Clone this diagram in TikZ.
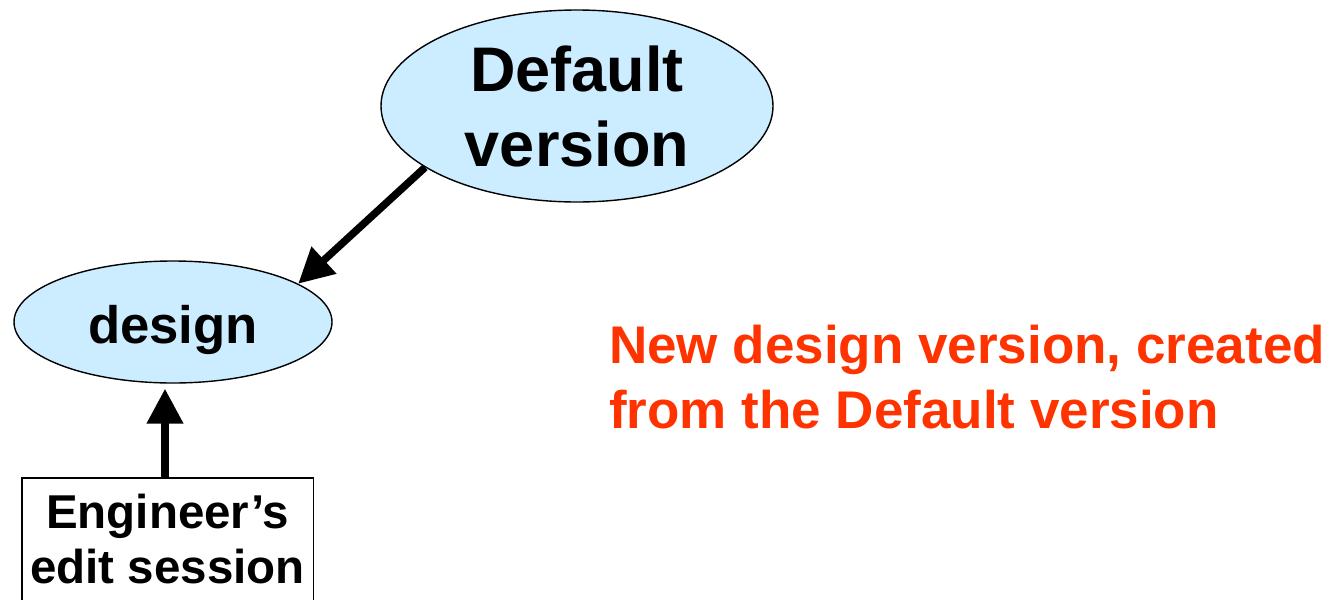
\documentclass[tikz,border=0pt]{standalone}
\usepackage{fontspec}
\setmainfont{Liberation Sans}
\usetikzlibrary{shapes.geometric,arrows.meta}
\definecolor{bubble}{RGB}{204,236,255}
\definecolor{note}{RGB}{255,51,0}
\tikzset{
  verbubble/.style={ellipse, draw=black, line width=1.4pt, fill=bubble,
    inner sep=0pt, font=\bfseries},
  sessbox/.style={rectangle, draw=none, inner xsep=0pt, align=center,
    font=\bfseries\fontsize{47.5}{55}\selectfont},
  flow/.style={line width=7.5pt, -{Triangle[length=35pt,width=35pt]}},
  notetext/.style={text=note, align=left, inner sep=0pt,
    font=\bfseries\fontsize{53}{65}\selectfont}
}
\begin{document}
\begin{tikzpicture}[x=1pt,y=-1pt]
  \useasboundingbox (0,0) rectangle (1342,600);
  \clip (0,0) rectangle (1342,600);

  % version bubbles
  \node[verbubble, minimum width=392pt, minimum height=192pt, align=center,
        font=\bfseries\fontsize{63}{75}\selectfont]
    (dv) at (577,106) {Default\\version};
  \node[verbubble, minimum width=318pt, minimum height=122pt,
        text height=50pt, text depth=8pt,
        font=\bfseries\fontsize{52.7}{60}\selectfont]
    (de) at (173,322) {design};

  % the engineer's session, open at the bottom
  \node[sessbox, anchor=north, inner ysep=15.4pt, minimum width=291pt]
    (eng) at (167.5,478) {Engineer’s\\edit session};
  \draw[line width=1.4pt] ([yshift=-40pt]eng.south west) -- (eng.north west)
    -- (eng.north east) -- ([yshift=-40pt]eng.south east);

  % connectors
  \draw[flow] (dv.202.8) -- (de.17.6);
  \draw[flow] ([xshift=-2.5pt]eng.north)
    -- ([xshift=-2.5pt,yshift=-5pt]eng.north |- de.south);

  % annotation
  \node[notetext, anchor=north west] (note) at (609,324.4)
    {New design version, created\\from the Default version};
\end{tikzpicture}
\end{document}
